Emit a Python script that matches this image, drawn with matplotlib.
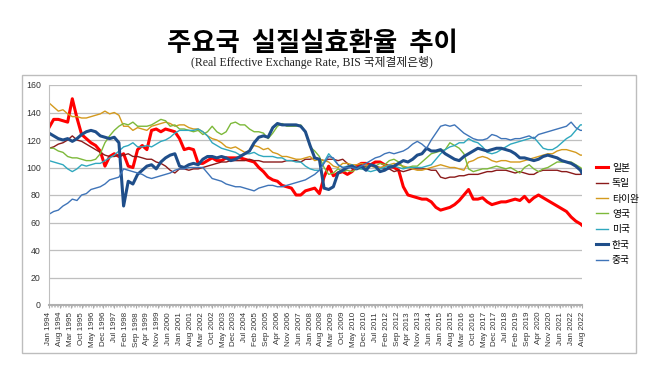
import matplotlib
matplotlib.use('Agg')
import matplotlib.pyplot as plt
from matplotlib.patches import Rectangle

plt.rcParams['font.family'] = ['Liberation Sans', 'Noto Sans CJK KR', 'DejaVu Sans']

# quarterly readings (Jan/Apr/Jul/Oct) from Jan 1994, last point Aug 2022
months = list(range(0, 343, 3)) + [343]

japan = [129, 135, 135, 134, 133, 150, 136, 124, 121, 118, 116, 112,
         101, 108, 110, 108, 110, 101, 100, 113, 116, 113, 127, 128,
         126, 128, 127, 126, 121, 113, 114, 113, 103, 103, 105, 107,
         105, 105, 107, 107, 107, 107, 106, 105, 104, 100, 97, 93,
         91, 90, 87, 86, 85, 80, 80, 83, 84, 85, 81, 93,
         101, 94, 96, 97, 95, 97, 101, 103, 103, 102, 104, 104,
         102, 101, 100, 98, 86, 80, 79, 78, 77, 77, 75, 71,
         69, 70, 71, 73, 76, 80, 84, 77, 77, 78, 75, 73,
         74, 75, 75, 76, 77, 76, 79, 75, 78, 80, 78, 76,
         74, 72, 70, 68, 64, 61, 59, 58]
germany = [114, 115, 117, 118, 120, 123, 120, 119, 117, 115, 113, 111,
           109, 108, 108, 109, 109, 110, 108, 108, 107, 106, 106, 104,
           103, 101, 98, 96, 99, 99, 98, 99, 99, 100, 101, 102,
           103, 104, 104, 105, 105, 105, 105, 106, 105, 105, 104, 104,
           104, 104, 104, 105, 105, 105, 104, 106, 106, 107, 106, 105,
           106, 106, 105, 106, 103, 99, 100, 101, 101, 101, 101, 100,
           99, 99, 97, 98, 97, 98, 99, 99, 99, 99, 98, 98,
           93, 92, 93, 93, 94, 94, 95, 95, 95, 96, 97, 97,
           98, 98, 98, 97, 96, 97, 96, 95, 95, 97, 98, 98,
           98, 98, 97, 97, 96, 95, 95, 96]
taiwan = [147, 144, 141, 142, 139, 137, 137, 136, 136, 137, 138, 139,
          141, 139, 140, 138, 130, 130, 127, 129, 128, 127, 130, 131,
          132, 133, 132, 130, 131, 131, 129, 128, 128, 126, 123, 121,
          120, 118, 115, 114, 115, 113, 111, 112, 116, 115, 113, 114,
          111, 110, 108, 108, 107, 106, 106, 107, 108, 105, 106, 105,
          104, 101, 100, 103, 103, 102, 102, 103, 102, 101, 100, 100,
          101, 102, 103, 102, 101, 100, 99, 98, 98, 99, 100, 101,
          102, 101, 100, 100, 99, 98, 104, 105, 107, 108, 107, 105,
          104, 105, 105, 104, 104, 104, 105, 106, 107, 108, 109, 110,
          110, 112, 113, 113, 112, 111, 109, 109]
uk = [114, 114, 112, 111, 108, 107, 107, 106, 105, 105, 106, 110,
      118, 123, 127, 130, 132, 131, 133, 130, 130, 130, 131, 133,
      135, 134, 130, 131, 128, 128, 127, 126, 127, 124, 126, 130,
      126, 124, 126, 132, 133, 131, 131, 128, 126, 126, 125, 121,
      125, 130, 132, 130, 130, 130, 131, 126, 115, 112, 108, 100,
      95, 96, 99, 97, 98, 97, 99, 99, 100, 102, 101, 103,
      102, 105, 106, 104, 100, 100, 101, 101, 104, 107, 110, 111,
      112, 113, 118, 116, 114, 110, 99, 97, 98, 99, 99, 100,
      101, 100, 99, 100, 98, 96, 100, 102, 99, 97, 99, 100,
      102, 104, 104, 104, 104, 102, 100, 99]
usa = [105, 104, 103, 102, 99, 97, 99, 102, 101, 102, 103, 103,
       105, 107, 109, 112, 115, 116, 118, 115, 115, 116, 115, 117,
       119, 120, 122, 125, 127, 127, 127, 127, 128, 126, 123, 118,
       116, 114, 113, 112, 111, 109, 110, 110, 111, 109, 108, 108,
       108, 107, 107, 105, 105, 104, 104, 101, 99, 98, 98, 104,
       110, 106, 102, 100, 101, 102, 100, 99, 98, 97, 98, 99,
       100, 102, 101, 100, 99, 100, 100, 100, 100, 101, 102, 106,
       110, 113, 115, 116, 118, 118, 121, 119, 118, 115, 111, 110,
       111, 113, 115, 117, 118, 119, 120, 121, 122, 118, 114, 113,
       113, 115, 118, 121, 123, 127, 131, 131]
korea = [125, 123, 121, 120, 121, 119, 121, 124, 126, 127, 126, 123,
         122, 121, 122, 118, 72, 90, 88, 95, 98, 101, 102, 99,
         104, 107, 109, 110, 101, 100, 102, 103, 102, 106, 108, 108,
         107, 108, 107, 105, 106, 108, 110, 112, 118, 122, 123, 122,
         129, 132, 131, 131, 131, 131, 130, 126, 116, 107, 106, 85,
         84, 86, 96, 98, 100, 101, 99, 101, 98, 102, 101, 97,
         98, 100, 101, 103, 105, 104, 106, 109, 110, 114, 112, 112,
         113, 110, 108, 106, 105, 108, 110, 112, 114, 113, 112, 113,
         114, 114, 113, 112, 110, 107, 107, 106, 105, 106, 108, 109,
         108, 107, 105, 104, 103, 101, 98, 96]
china = [66, 68, 69, 72, 74, 77, 76, 80, 81, 84, 85, 86,
         88, 91, 92, 93, 99, 98, 97, 96, 95, 93, 92, 93,
         94, 95, 96, 98, 99, 99, 100, 100, 100, 100, 96, 92,
         91, 90, 88, 87, 86, 86, 85, 84, 83, 85, 86, 87,
         87, 86, 86, 87, 88, 89, 90, 91, 93, 95, 98, 103,
         108, 107, 102, 100, 100, 100, 99, 101, 103, 105, 107, 108,
         110, 111, 110, 111, 112, 114, 117, 119, 117, 114, 120, 125,
         130, 131, 130, 131, 128, 125, 123, 121, 120, 120, 121, 124,
         123, 121, 121, 120, 121, 121, 122, 123, 121, 124, 125, 126,
         127, 128, 129, 130, 133, 129, 127, 127]

names = ['일본', '독일', '타이완', '영국', '미국', '한국', '중국']
series = [japan, germany, taiwan, uk, usa, korea, china]
colors = ['#FF0000', '#8B1A1A', '#D49A1E', '#7DB93A', '#2FA8BE', '#1F4E8A', '#3F74B8']
widths = [2.2, 1.0, 1.0, 1.0, 1.0, 2.2, 1.0]

month_names = ['Jan', 'Feb', 'Mar', 'Apr', 'May', 'Jun', 'Jul', 'Aug', 'Sep', 'Oct', 'Nov', 'Dec']
tick_pos = list(range(0, 344, 7))
tick_labels = ['%s %d' % (month_names[m % 12], 1994 + m // 12) for m in tick_pos]

fig = plt.figure(figsize=(6.58, 3.84), dpi=100)
fig.patch.set_facecolor('white')

# grey frame around the chart
fig.patches.append(Rectangle((22/658, 31/384), 614/658, 278/384, transform=fig.transFigure,
                             fill=False, edgecolor='#BDBDBD', linewidth=1.0))

fig.text(0.474, 0.888, '주요국  실질실효환율  추이', ha='center', va='center',
         fontsize=19, fontweight='bold', family=['Noto Sans CJK KR'])
fig.text(0.474, 0.838, '(Real Effective Exchange Rate, BIS 국제결제은행)', ha='center', va='center',
         fontsize=8.5, family=['Liberation Serif', 'Noto Sans CJK KR'], color='#222222')

ax = fig.add_axes([49/658, 79/384, 533/658, 220/384])
for name, vals, c, lw in zip(names, series, colors, widths):
    ax.plot(months, vals, color=c, linewidth=lw, label=name)

ax.set_xlim(0, 343)
ax.set_ylim(0, 160)
ax.set_yticks(range(0, 161, 20))
ax.set_xticks(tick_pos)
ax.set_xticklabels(tick_labels, rotation=90, fontsize=5.8, color='#333333')
ax.set_xticks(range(0, 344), minor=True)
ax.tick_params(axis='y', labelsize=6.3, colors='#333333', length=0, pad=6)
ax.tick_params(axis='x', which='major', length=2, color='#AAAAAA', pad=3)
ax.tick_params(axis='x', which='minor', length=1.5, color='#BBBBBB')
ax.grid(axis='y', color='#BFBFBF', linewidth=0.9)
ax.set_axisbelow(True)
for s in ['top', 'right']:
    ax.spines[s].set_visible(False)
ax.spines['left'].set_color('#BFBFBF')
ax.spines['bottom'].set_color('#B0B0B0')
ax.spines['bottom'].set_linewidth(1.5)

leg = fig.legend(loc='center left', bbox_to_anchor=(0.893, 0.443), frameon=False,
                 handlelength=1.2, handletextpad=0.4, labelspacing=0.55,
                 prop={'family': 'Noto Sans CJK KR', 'size': 7})

plt.savefig('out.png', dpi=100)
